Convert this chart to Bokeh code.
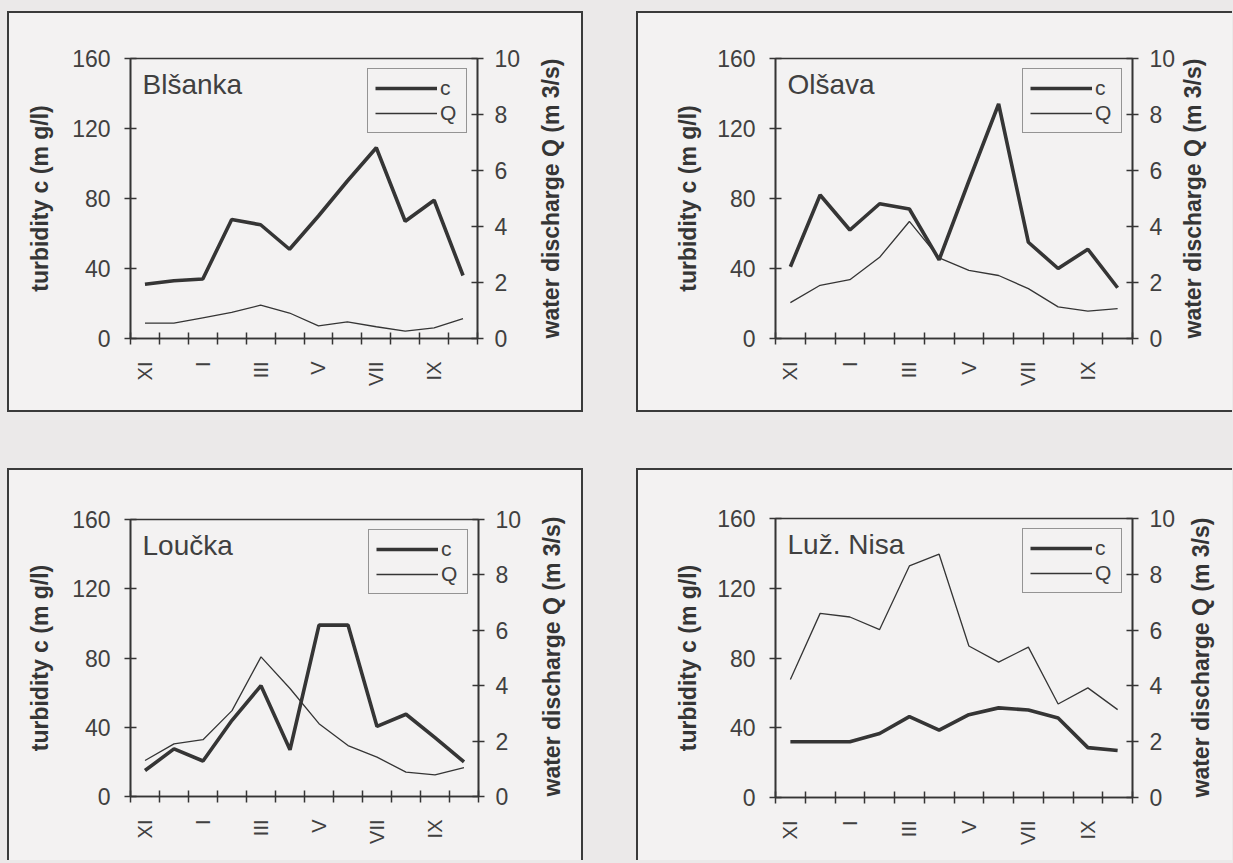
import math
from bokeh.plotting import figure
from bokeh.models import Range1d, LinearAxis, FixedTicker, Legend, LegendItem, Label, Spacer
from bokeh.layouts import row, column
from bokeh.embed import file_html
from bokeh.resources import INLINE

# ---------------- data ----------------
months = ["XI", "XII", "I", "II", "III", "IV", "V", "VI", "VII", "VIII", "IX", "X"]
shown_months = ["XI", "I", "III", "V", "VII", "IX"]
c_ticks = [0, 40, 80, 120, 160]
q_ticks = [0, 2, 4, 6, 8, 10]

blsanka_c = [31, 33, 34, 68, 65, 51, 70, 90, 109, 67, 79, 36]
blsanka_q = [0.55, 0.55, 0.74, 0.93, 1.19, 0.91, 0.45, 0.59, 0.42, 0.26, 0.38, 0.71]

olsava_c = [41, 82, 62, 77, 74, 45, 90, 134, 55, 40, 51, 29]
olsava_q = [1.28, 1.9, 2.1, 2.9, 4.18, 2.88, 2.43, 2.25, 1.78, 1.13, 0.98, 1.07]

loucka_c = [15, 27.5, 20.5, 44, 64, 27, 99, 99, 40.5, 47.5, 34, 20]
loucka_q = [1.3, 1.9, 2.05, 3.1, 5.04, 3.9, 2.63, 1.84, 1.42, 0.88, 0.78, 1.04]

nisa_c = [32, 32, 32, 36.7, 46.4, 38.6, 47.5, 51.4, 50.2, 45.6, 28.6, 27]
nisa_q = [4.23, 6.6, 6.47, 6.02, 8.3, 8.72, 5.43, 4.85, 5.39, 3.35, 3.93, 3.15]

c_title = "turbidity c (m g/l)"
q_title = "water discharge Q (m 3/s)"

# ---------------- style ----------------
FONT = "Liberation Sans"
INK = "#353535"
TXT = "#404040"
PAGE = "#ebe9e9"
BOX = "#f3f2f2"


def panel(name, cvals, qvals, w, h, bl, br, bt, bb, l_tstd, r_tstd):
    xs = [i + 0.5 for i in range(len(months))]
    p = figure(width=w, height=h, output_backend="svg", toolbar_location=None,
               x_range=Range1d(0, len(months)), y_range=Range1d(c_ticks[0], c_ticks[-1]),
               min_border_left=bl, min_border_right=br, min_border_top=bt, min_border_bottom=bb,
               x_axis_location=None, y_axis_location=None)
    p.extra_y_ranges = {"q": Range1d(q_ticks[0], q_ticks[-1])}
    p.grid.visible = False
    p.background_fill_color = BOX
    p.border_fill_color = BOX
    p.outline_line_color = INK
    p.outline_line_width = 1.6

    # x axis: labels at category centres, ticks between categories
    xa = LinearAxis(ticker=FixedTicker(ticks=xs, minor_ticks=list(range(len(months) + 1))))
    xa.major_label_overrides = {x: (m if m in shown_months else "") for x, m in zip(xs, months)}
    xa.major_label_orientation = math.pi / 2
    xa.major_tick_line_color = None
    xa.major_tick_in = 0
    xa.major_tick_out = 6
    xa.minor_tick_in = 6
    xa.minor_tick_out = 6
    xa.minor_tick_line_color = INK
    xa.minor_tick_line_width = 1.5
    xa.axis_line_color = INK
    xa.axis_line_width = 1.6
    xa.major_label_standoff = 17
    xa.major_label_text_font = FONT
    xa.major_label_text_font_size = "20px"
    xa.major_label_text_color = TXT
    p.add_layout(xa, "below")

    ya = LinearAxis(ticker=FixedTicker(ticks=c_ticks), axis_label=c_title)
    yb = LinearAxis(ticker=FixedTicker(ticks=q_ticks), y_range_name="q", axis_label=q_title)
    for ax, std, tstd in ((ya, 14, l_tstd), (yb, 11, r_tstd)):
        ax.major_tick_in = 6
        ax.major_tick_out = 6
        ax.major_tick_line_color = INK
        ax.major_tick_line_width = 1.5
        ax.minor_tick_line_color = None
        ax.axis_line_color = INK
        ax.axis_line_width = 1.6
        ax.major_label_standoff = std
        ax.major_label_text_font = FONT
        ax.major_label_text_font_size = "23px"
        ax.major_label_text_color = TXT
        ax.axis_label_standoff = tstd
        ax.axis_label_text_font = FONT
        ax.axis_label_text_font_style = "bold"
        ax.axis_label_text_font_size = "23px"
        ax.axis_label_text_color = INK
    # right title reads bottom to top, starting at the bottom of the axis
    yb.axis_label_orientation = math.pi / 2
    yb.axis_label_align = "start"
    p.add_layout(ya, "left")
    p.add_layout(yb, "right")

    rq = p.line(xs, qvals, y_range_name="q", line_color=INK, line_width=1.3)
    rc = p.line(xs, cvals, line_color=INK, line_width=3.6)

    legend = Legend(items=[LegendItem(label="c", renderers=[rc]),
                           LegendItem(label="Q", renderers=[rq])],
                    location="top_right", margin=10, padding=7, spacing=1,
                    glyph_width=62, glyph_height=24, label_height=24, label_width=19,
                    label_standoff=3, border_line_color=INK, border_line_width=1.6,
                    background_fill_color=BOX, background_fill_alpha=1.0,
                    label_text_font=FONT, label_text_font_size="21px",
                    label_text_color=TXT)
    p.add_layout(legend)

    p.add_layout(Label(x=0, y=145, x_offset=12, text=name, text_font=FONT,
                       text_font_size="28px", text_color=TXT, text_baseline="alphabetic"))
    return p


def boxed(p, right=True, bottom=True):
    st = {"border": "2px solid #3a3a3a", "background-color": BOX}
    if not right:
        st["border-right"] = "none"
    if not bottom:
        st["border-bottom"] = "none"
    return column(p, styles=st)


p1 = panel("Blšanka", blsanka_c, blsanka_q, 572, 397, 121, 104, 45, 72, 16, 28)
p2 = panel("Olšava", olsava_c, olsava_q, 594, 397, 137, 100, 45, 72, 13, 15)
p3 = panel("Loučka", loucka_c, loucka_q, 572, 390, 121, 103, 49, 64, 16, 28)
p4 = panel("Luž. Nisa", nisa_c, nisa_q, 594, 390, 137, 100, 48, 63, 13, 23)

layout = column(Spacer(height=11),
                row(Spacer(width=7), boxed(p1), Spacer(width=53), boxed(p2, right=False)),
                Spacer(height=56),
                row(Spacer(width=7), boxed(p3, bottom=False), Spacer(width=53),
                    boxed(p4, right=False, bottom=False)))

html = file_html(layout, INLINE)
html = html.replace("</head>", "<style>html, body { background-color: %s; }</style></head>" % PAGE, 1)
open("out.html", "w").write(html)
